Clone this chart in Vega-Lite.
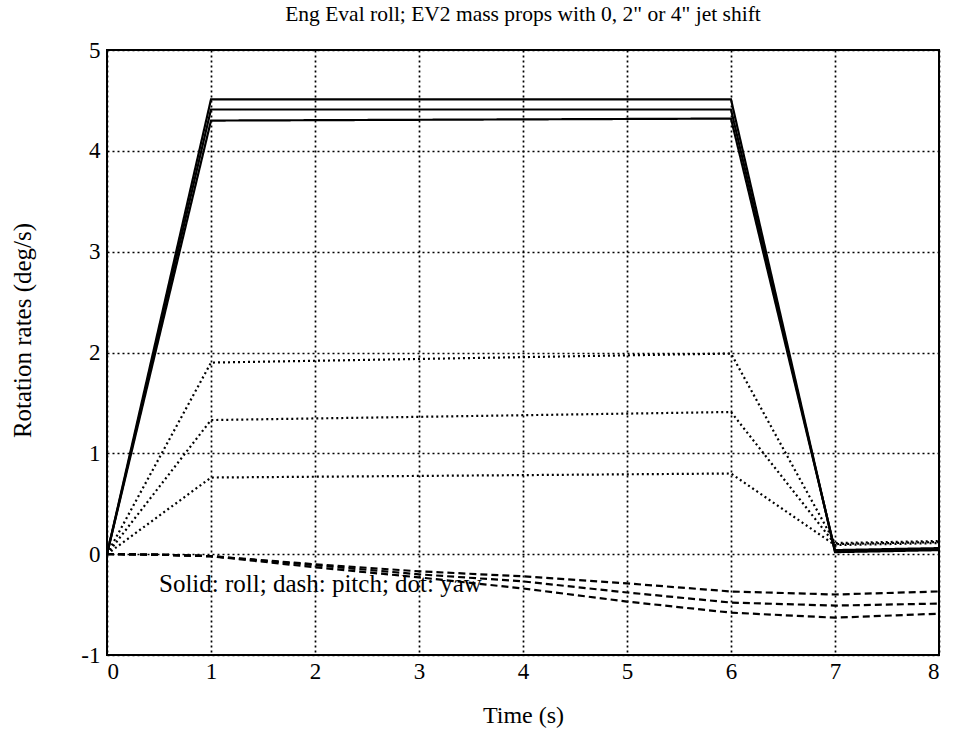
{
  "$schema": "https://vega.github.io/schema/vega-lite/v6.json",
  "width": 832,
  "height": 605,
  "autosize": {"type": "none"},
  "padding": {"left": 107, "top": 50, "right": 16, "bottom": 83},
  "background": "white",
  "title": {
    "text": "Eng Eval roll; EV2 mass props with 0, 2\" or 4\" jet shift",
    "font": "Liberation Serif",
    "fontSize": 21.5,
    "fontWeight": "normal",
    "color": "black",
    "anchor": "middle",
    "offset": 14
  },
  "config": {
    "view": {"stroke": "black", "strokeWidth": 2},
    "axis": {
      "labelFont": "Liberation Serif",
      "labelFontSize": 23,
      "labelColor": "black",
      "titleFont": "Liberation Serif",
      "titleFontSize": 24,
      "titleFontWeight": "normal",
      "titleColor": "black",
      "domain": false,
      "ticks": false,
      "grid": true,
      "gridColor": "black",
      "gridDash": [2, 3],
      "gridWidth": 1.7,
      "gridOpacity": 1
    }
  },
  "datasets": {
    "rates": [
      {"t": 0, "rate": 0, "axis": "roll", "shift": "0in"},
      {"t": 1, "rate": 4.51, "axis": "roll", "shift": "0in"},
      {"t": 6, "rate": 4.51, "axis": "roll", "shift": "0in"},
      {"t": 7, "rate": 0.02, "axis": "roll", "shift": "0in"},
      {"t": 8, "rate": 0.04, "axis": "roll", "shift": "0in"},
      {"t": 0, "rate": 0, "axis": "roll", "shift": "2in"},
      {"t": 1, "rate": 4.41, "axis": "roll", "shift": "2in"},
      {"t": 6, "rate": 4.41, "axis": "roll", "shift": "2in"},
      {"t": 7, "rate": 0.03, "axis": "roll", "shift": "2in"},
      {"t": 8, "rate": 0.05, "axis": "roll", "shift": "2in"},
      {"t": 0, "rate": 0, "axis": "roll", "shift": "4in"},
      {"t": 1, "rate": 4.3, "axis": "roll", "shift": "4in"},
      {"t": 6, "rate": 4.32, "axis": "roll", "shift": "4in"},
      {"t": 7, "rate": 0.04, "axis": "roll", "shift": "4in"},
      {"t": 8, "rate": 0.06, "axis": "roll", "shift": "4in"},

      {"t": 0, "rate": 0, "axis": "yaw", "shift": "0in"},
      {"t": 1, "rate": 0.76, "axis": "yaw", "shift": "0in"},
      {"t": 6, "rate": 0.8, "axis": "yaw", "shift": "0in"},
      {"t": 7, "rate": 0.09, "axis": "yaw", "shift": "0in"},
      {"t": 8, "rate": 0.11, "axis": "yaw", "shift": "0in"},
      {"t": 0, "rate": 0, "axis": "yaw", "shift": "2in"},
      {"t": 1, "rate": 1.33, "axis": "yaw", "shift": "2in"},
      {"t": 6, "rate": 1.41, "axis": "yaw", "shift": "2in"},
      {"t": 7, "rate": 0.1, "axis": "yaw", "shift": "2in"},
      {"t": 8, "rate": 0.12, "axis": "yaw", "shift": "2in"},
      {"t": 0, "rate": 0, "axis": "yaw", "shift": "4in"},
      {"t": 1, "rate": 1.9, "axis": "yaw", "shift": "4in"},
      {"t": 6, "rate": 1.99, "axis": "yaw", "shift": "4in"},
      {"t": 7, "rate": 0.11, "axis": "yaw", "shift": "4in"},
      {"t": 8, "rate": 0.13, "axis": "yaw", "shift": "4in"},

      {"t": 0, "rate": 0, "axis": "pitch", "shift": "0in"},
      {"t": 0.5, "rate": -0.005, "axis": "pitch", "shift": "0in"},
      {"t": 1, "rate": -0.02, "axis": "pitch", "shift": "0in"},
      {"t": 2, "rate": -0.1, "axis": "pitch", "shift": "0in"},
      {"t": 3, "rate": -0.17, "axis": "pitch", "shift": "0in"},
      {"t": 4, "rate": -0.22, "axis": "pitch", "shift": "0in"},
      {"t": 5, "rate": -0.29, "axis": "pitch", "shift": "0in"},
      {"t": 6, "rate": -0.37, "axis": "pitch", "shift": "0in"},
      {"t": 7, "rate": -0.4, "axis": "pitch", "shift": "0in"},
      {"t": 8, "rate": -0.37, "axis": "pitch", "shift": "0in"},
      {"t": 0, "rate": 0, "axis": "pitch", "shift": "2in"},
      {"t": 0.5, "rate": -0.005, "axis": "pitch", "shift": "2in"},
      {"t": 1, "rate": -0.02, "axis": "pitch", "shift": "2in"},
      {"t": 2, "rate": -0.11, "axis": "pitch", "shift": "2in"},
      {"t": 3, "rate": -0.2, "axis": "pitch", "shift": "2in"},
      {"t": 4, "rate": -0.27, "axis": "pitch", "shift": "2in"},
      {"t": 5, "rate": -0.38, "axis": "pitch", "shift": "2in"},
      {"t": 6, "rate": -0.48, "axis": "pitch", "shift": "2in"},
      {"t": 7, "rate": -0.51, "axis": "pitch", "shift": "2in"},
      {"t": 8, "rate": -0.49, "axis": "pitch", "shift": "2in"},
      {"t": 0, "rate": 0, "axis": "pitch", "shift": "4in"},
      {"t": 0.5, "rate": -0.005, "axis": "pitch", "shift": "4in"},
      {"t": 1, "rate": -0.02, "axis": "pitch", "shift": "4in"},
      {"t": 2, "rate": -0.13, "axis": "pitch", "shift": "4in"},
      {"t": 3, "rate": -0.23, "axis": "pitch", "shift": "4in"},
      {"t": 4, "rate": -0.34, "axis": "pitch", "shift": "4in"},
      {"t": 5, "rate": -0.47, "axis": "pitch", "shift": "4in"},
      {"t": 6, "rate": -0.58, "axis": "pitch", "shift": "4in"},
      {"t": 7, "rate": -0.63, "axis": "pitch", "shift": "4in"},
      {"t": 8, "rate": -0.59, "axis": "pitch", "shift": "4in"}
    ],
    "note": [
      {"t": 0.5, "rate": -0.3, "label": "Solid: roll; dash: pitch; dot: yaw"}
    ]
  },
  "layer": [
    {
      "data": {"name": "rates"},
      "mark": {"type": "line", "color": "black", "clip": true},
      "encoding": {
        "x": {
          "field": "t",
          "type": "quantitative",
          "scale": {"domain": [0, 8], "nice": false, "zero": false},
          "axis": {
            "title": "Time (s)",
            "values": [0, 1, 2, 3, 4, 5, 6, 7, 8],
            "labelExpr": "'' + datum.value",
            "labelPadding": 5,
            "labelDx": 4,
            "titlePadding": 20
          }
        },
        "y": {
          "field": "rate",
          "type": "quantitative",
          "scale": {"domain": [-1, 5], "nice": false, "zero": false},
          "axis": {
            "title": "Rotation rates (deg/s)",
            "values": [-1, 0, 1, 2, 3, 4, 5],
            "labelExpr": "'' + datum.value",
            "labelPadding": 7,
            "titleFontSize": 25,
            "titleX": -85,
            "titleY": 280,
            "titleAngle": 270,
            "titleAlign": "center",
            "titleBaseline": "middle"
          }
        },
        "detail": {"field": "shift", "type": "nominal"},
        "strokeDash": {
          "field": "axis",
          "type": "nominal",
          "scale": {
            "domain": ["roll", "pitch", "yaw"],
            "range": [[1, 0], [7, 4], [2, 3]]
          },
          "legend": null
        },
        "strokeWidth": {
          "field": "axis",
          "type": "nominal",
          "scale": {
            "domain": ["roll", "pitch", "yaw"],
            "range": [2.2, 2.2, 2]
          },
          "legend": null
        }
      }
    },
    {
      "data": {"name": "note"},
      "mark": {
        "type": "text",
        "align": "left",
        "baseline": "middle",
        "font": "Liberation Serif",
        "fontSize": 25,
        "color": "black"
      },
      "encoding": {
        "x": {"field": "t", "type": "quantitative"},
        "y": {"field": "rate", "type": "quantitative"},
        "text": {"field": "label"}
      }
    }
  ]
}
